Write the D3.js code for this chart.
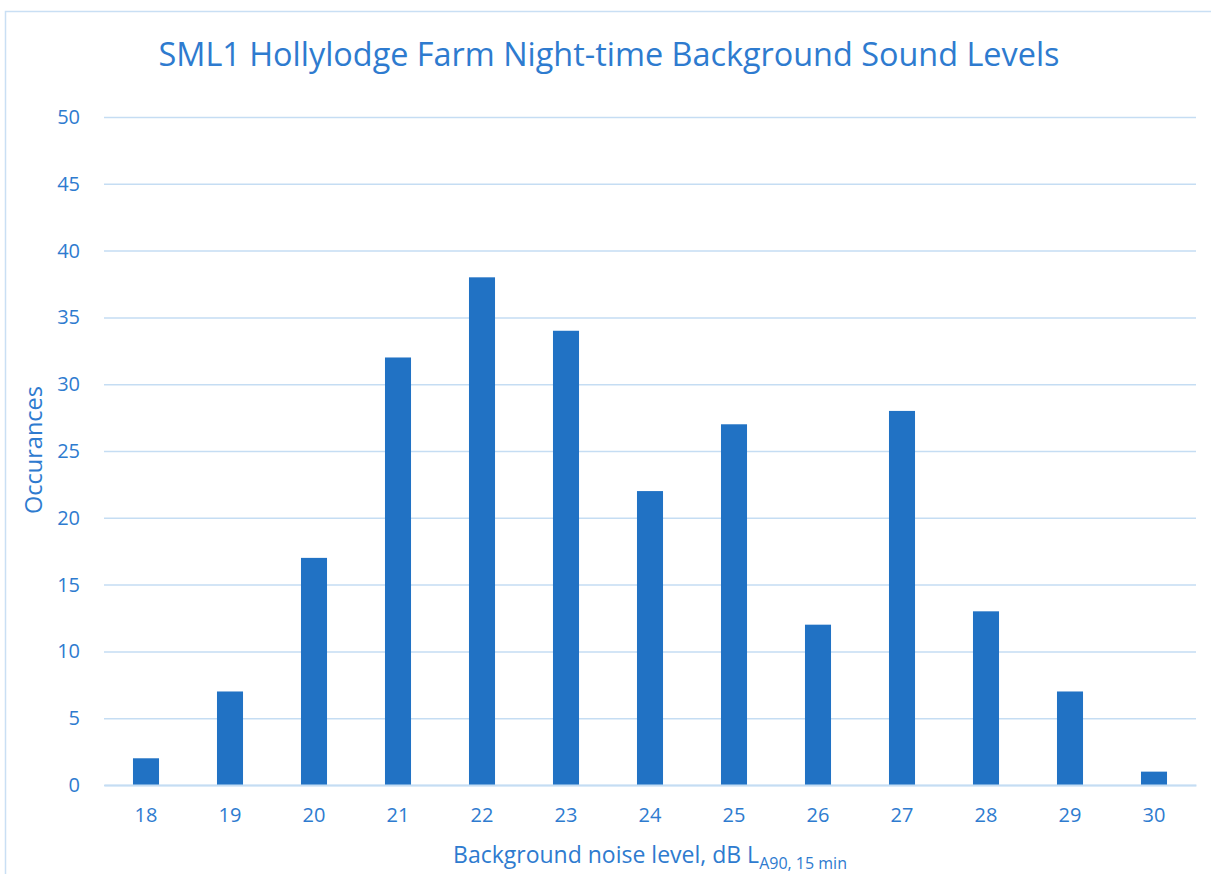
<!DOCTYPE html>
<html><head><meta charset="utf-8">
<script src="https://cdn.jsdelivr.net/npm/d3@7"></script>
<style>body{margin:0;background:#fff;}svg{display:block;font-family:"Open Sans","Noto Sans",sans-serif;}</style>
</head><body>
<svg id="c" width="1211" height="874"></svg>
<script>
const categories = ["18","19","20","21","22","23","24","25","26","27","28","29","30"];
const occurrences = [2,7,17,32,38,34,22,27,12,28,13,7,1];
const yTicks = [0,5,10,15,20,25,30,35,40,45,50];
const titleText = "SML1 Hollylodge Farm Night-time Background Sound Levels";

const svg = d3.select("#c");
const font = '"Open Sans","Noto Sans",sans-serif';
const textColor = "#2E7BCF", barColor = "#2172C4", gridColor = "#C5DDF3";
const m = {left:104, right:1196, top:117, bottom:785};

svg.append("rect").attr("x",5.5).attr("y",11.5).attr("width",1220).attr("height",900)
  .attr("fill","none").attr("stroke","#C9DFF4").attr("stroke-width",1.5);

const x = d3.scaleBand().domain(categories).range([m.left,m.right]).paddingInner(0.69).paddingOuter(0.345);
const y = d3.scaleLinear().domain([0,50]).range([m.bottom,m.top]);

const gy = svg.append("g").attr("transform",`translate(${m.left},0)`)
  .call(d3.axisLeft(y).tickValues(yTicks).tickSize(-(m.right-m.left)).tickPadding(24));
gy.attr("font-family",font);
gy.select(".domain").remove();
gy.selectAll(".tick line").attr("stroke",gridColor).attr("stroke-width",1.5);
gy.selectAll(".tick text").attr("fill",textColor).style("font-size","20px");

svg.append("g").selectAll("rect").data(occurrences).join("rect")
  .attr("x",(d,i)=>x(categories[i])).attr("width",x.bandwidth())
  .attr("y",d=>y(d)).attr("height",d=>y(0)-y(d)).attr("fill",barColor);

const gx = svg.append("g").attr("transform",`translate(0,${m.bottom})`)
  .call(d3.axisBottom(x).tickSize(0).tickPadding(23));
gx.attr("font-family",font);
gx.select(".domain").attr("stroke",gridColor).attr("stroke-width",2);
gx.selectAll(".tick text").attr("fill",textColor).style("font-size","20px");

svg.append("text").attr("x",609).attr("y",66).attr("text-anchor","middle")
  .attr("fill",textColor).style("font-size","32.4px").text(titleText);

svg.append("text").attr("transform","translate(42,450) rotate(-90)").attr("text-anchor","middle")
  .attr("fill",textColor).style("font-size","23.5px").text("Occurances");

const xl = svg.append("text").attr("x",650).attr("y",863).attr("text-anchor","middle")
  .attr("fill",textColor).style("font-size","23px");
xl.append("tspan").text("Background noise level, dB L");
xl.append("tspan").attr("dy",6).style("font-size","16px").text("A90, 15 min");
</script>
</body></html>
